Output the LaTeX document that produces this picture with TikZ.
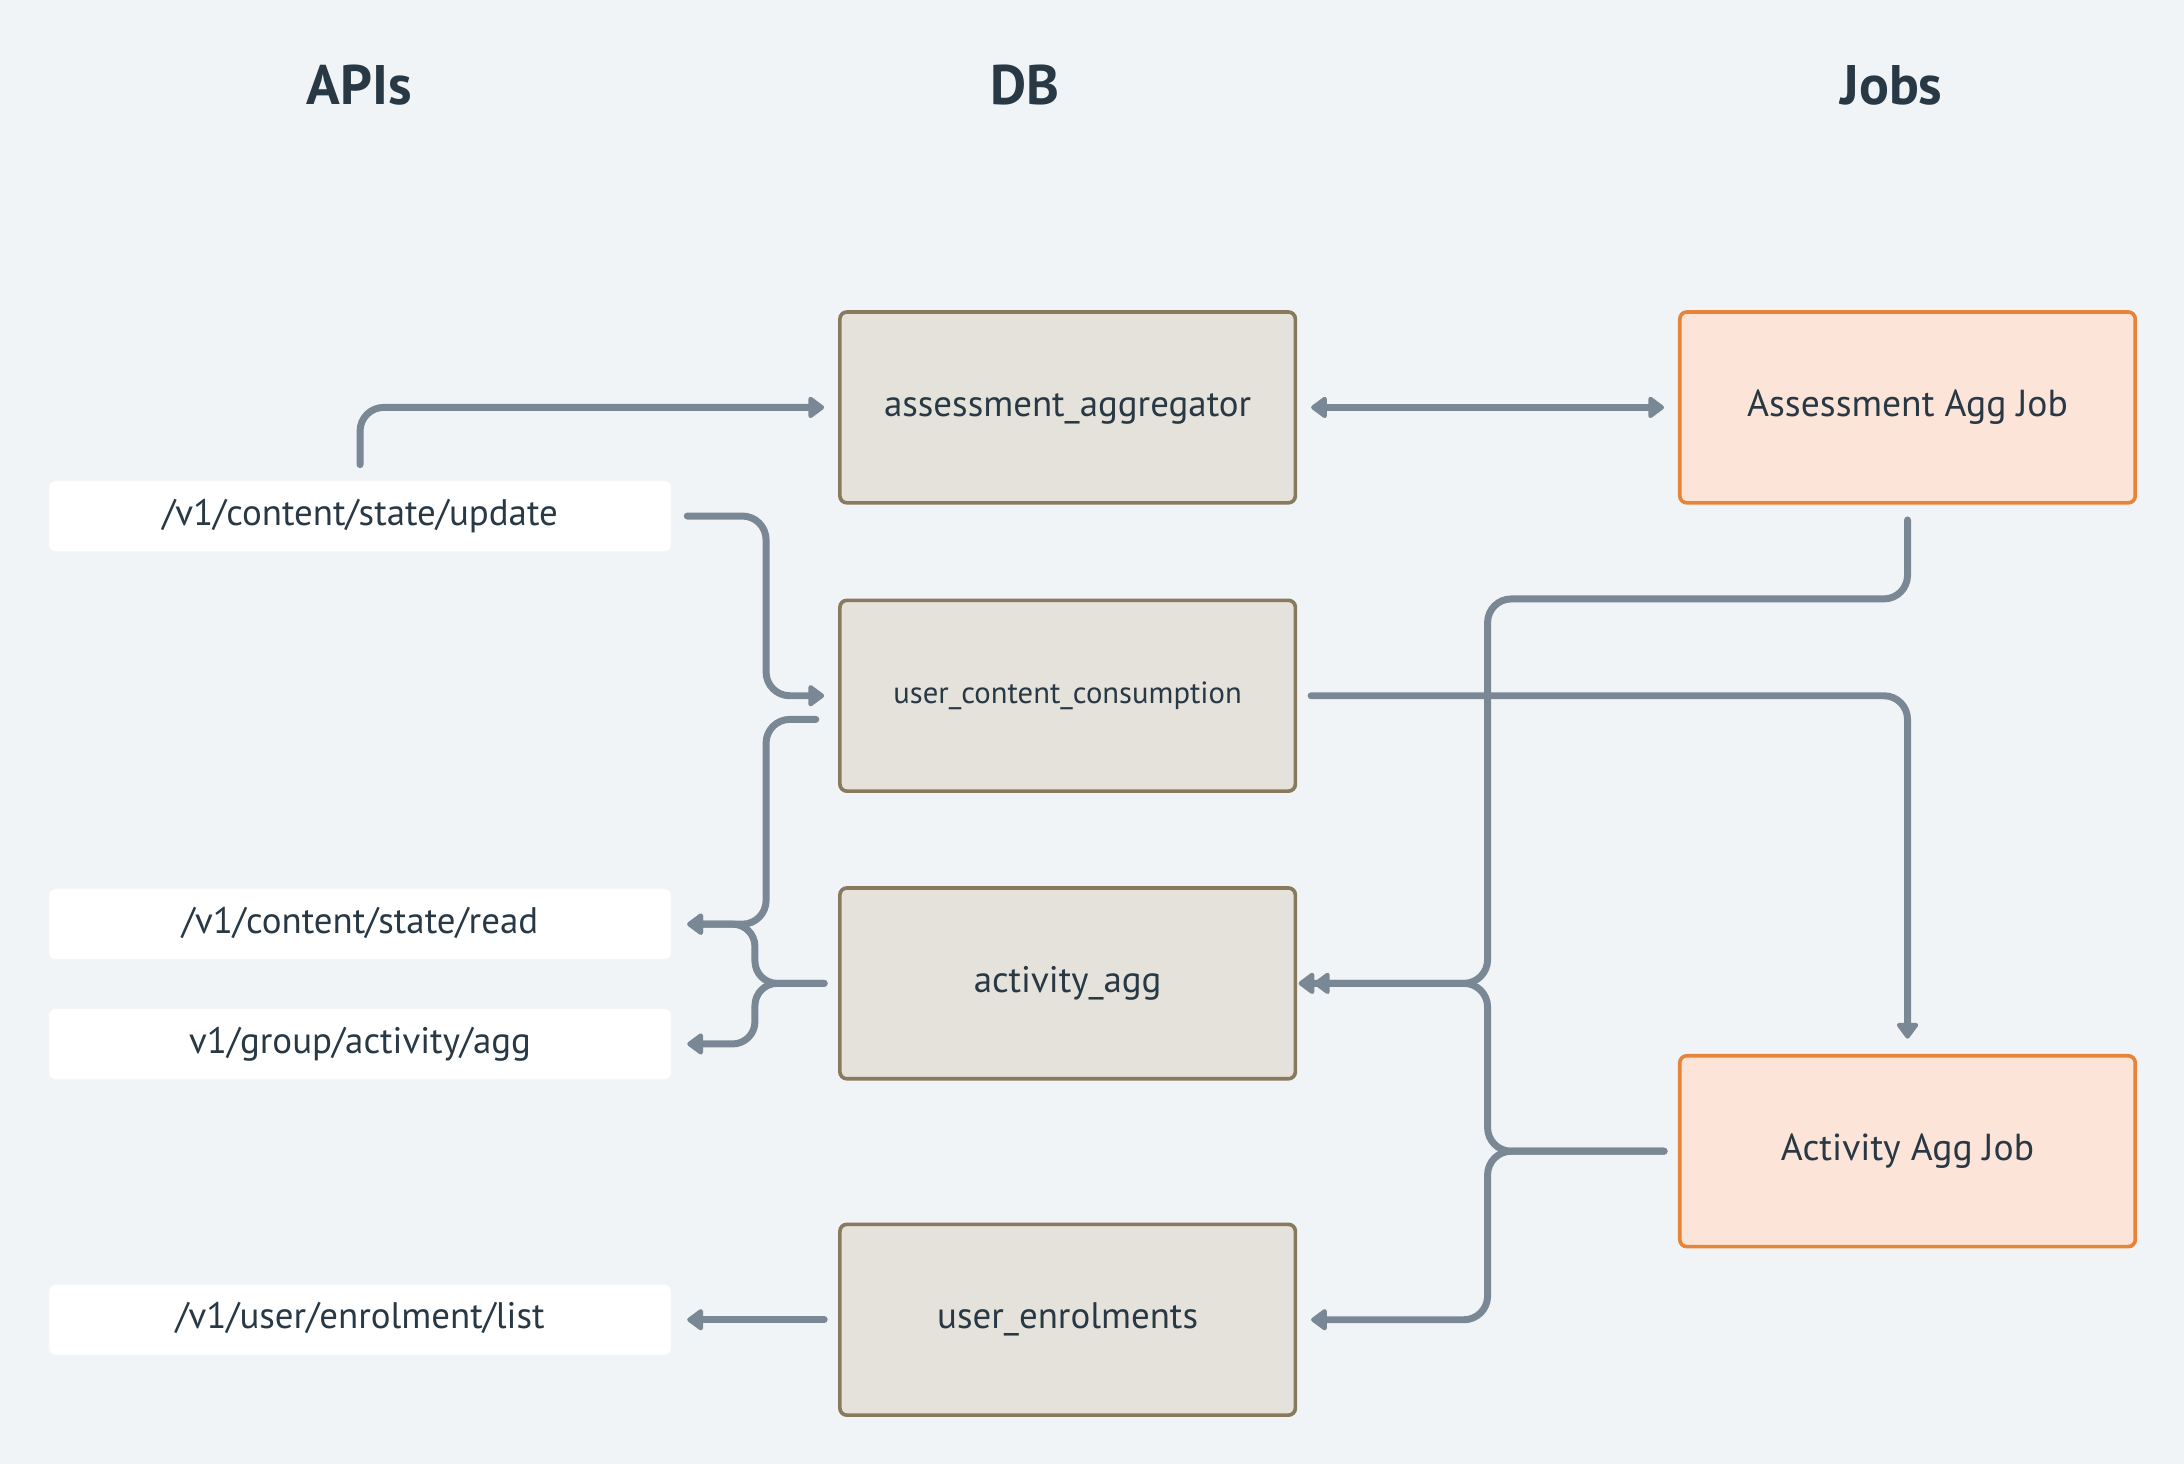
\documentclass[tikz,border=0pt]{standalone}
\usepackage{fontspec}
\setmainfont{PT Sans}
\usetikzlibrary{arrows.meta,calc}
\definecolor{bgc}{HTML}{F0F4F7}
\definecolor{linec}{HTML}{7A8896}
\definecolor{txtc}{HTML}{283845}
\definecolor{dbfill}{HTML}{E5E2DB}
\definecolor{dbdraw}{HTML}{8A7A5D}
\definecolor{jobfill}{HTML}{FCE5D8}
\definecolor{jobdraw}{HTML}{E8843A}
\begin{document}
\begin{tikzpicture}[x=1pt,y=-1pt,
  hdr/.style={text=txtc,font=\bfseries\fontsize{40}{46}\selectfont,inner sep=0pt},
  apibox/.style={fill=white,draw=black!4,line width=0.8pt,rounded corners=5pt,minimum width=447pt,minimum height=51pt,text=txtc,font=\fontsize{26.5}{30}\selectfont,inner sep=0pt,text height=19pt,text depth=6pt},
  dbbox/.style={fill=dbfill,draw=dbdraw,line width=2.6pt,rounded corners=5pt,minimum width=327pt,minimum height=137pt,text=txtc,font=\fontsize{26.5}{30}\selectfont,inner sep=0pt,text height=19pt,text depth=6pt},
  jobbox/.style={fill=jobfill,draw=jobdraw,line width=2.6pt,rounded corners=5pt,minimum width=327pt,minimum height=137pt,text=txtc,font=\fontsize{27}{30}\selectfont,inner sep=0pt,text height=19pt,text depth=6pt},
  conn/.style={draw=linec,line width=5pt,line cap=round,rounded corners=17pt},
  tip/.style={-{Triangle[length=12.5pt,width=17.5pt,round]}},
  btip/.style={{Triangle[length=12.5pt,width=17.5pt,round]}-{Triangle[length=12.5pt,width=17.5pt,round]}}
]
\path[fill=bgc] (0,0) rectangle (1568,1051);

% headers
\node[hdr] (hapi) at (258,61) {APIs};
\node[hdr] (hdb) at (736,61) {DB};
\node[hdr] (hjobs) at (1358,61) {Jobs};

% API boxes
\node[apibox] (upd) at (258.5,370.5) {/v1/content/state/update};
\node[apibox] (rd) at (258.5,663.5) {/v1/content/state/read};
\node[apibox] (grp) at (258.5,749.5) {v1/group/activity/agg};
\node[apibox] (enl) at (258.5,947.5) {/v1/user/enrolment/list};

% DB boxes
\node[dbbox] (dass) at (766.5,292.5) {assessment\_aggregator};
\node[dbbox,font=\fontsize{22}{26}\selectfont,text height=16pt,text depth=5pt] (ducc) at (766.5,499.5) {user\_content\_consumption};
\node[dbbox] (dact) at (766.5,706) {activity\_agg};
\node[dbbox] (denr) at (766.5,947.5) {user\_enrolments};

% Job boxes
\node[jobbox] (jass) at (1369.5,292.5) {Assessment Agg Job};
\node[jobbox] (jact) at (1369.5,826.5) {Activity Agg Job};

% helper coordinates
\coordinate (xL) at (550,0);
\coordinate (xB) at (542,0);
\coordinate (xR) at (1068,0);
\coordinate (yA) at (0,430);
\coordinate (uccout) at ($(ducc.west)+(-16,17)$);

% connectors
\draw[conn,tip] ($(upd.north)+(0,-11)$) -- (upd.north |- dass.west) -- ($(dass.west)+(-10,0)$);
\draw[conn,btip] ($(dass.east)+(10,0)$) -- ($(jass.west)+(-10,0)$);
\draw[conn,tip] ($(upd.east)+(11,0)$) -- (xL |- upd.east) -- (xL |- ducc.west) -- ($(ducc.west)+(-10,0)$);
\draw[conn,tip] (uccout) -- (xL |- uccout) -- (xL |- rd.east) -- ($(rd.east)+(11,0)$);
\draw[conn,tip,rounded corners=16pt] ($(dact.west)+(-10,0)$) -- (xB |- dact.west) -- (xB |- rd.east) -- ($(rd.east)+(11,0)$);
\draw[conn,tip,rounded corners=16pt] ($(dact.west)+(-10,0)$) -- (xB |- dact.west) -- (xB |- grp.east) -- ($(grp.east)+(11,0)$);
\draw[conn,tip] ($(jass.south)+(0,11)$) -- (jass.south |- yA) -- (xR |- yA) -- (xR |- dact.east) -- ($(dact.east)+(1,0)$);
\draw[conn,tip] ($(jact.west)+(-10,0)$) -- (xR |- jact.west) -- (xR |- dact.east) -- ($(dact.east)+(12,0)$);
\draw[conn,tip] ($(jact.west)+(-10,0)$) -- (xR |- jact.west) -- (xR |- denr.east) -- ($(denr.east)+(10,0)$);
\draw[conn,tip] ($(ducc.east)+(10,0)$) -- (jact.north |- ducc.east) -- ($(jact.north)+(0,-11)$);
\draw[conn,tip] ($(denr.west)+(-10,0)$) -- ($(enl.east)+(11,0)$);
\end{tikzpicture}
\end{document}
